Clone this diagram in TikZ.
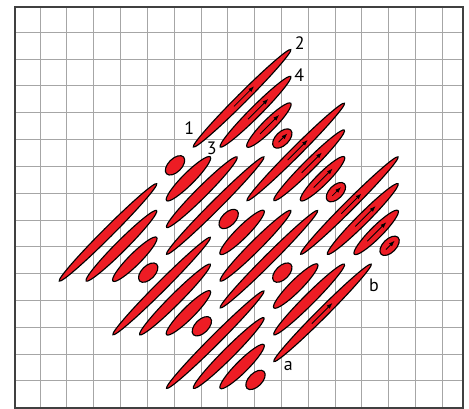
\documentclass[tikz,border=0pt]{standalone}
\usepackage{fontspec}
\setmainfont{PT Sans}
\usetikzlibrary{arrows.meta}

\definecolor{threadred}{HTML}{ED1C24}
\tikzset{
    stitch/.style={fill=threadred, draw=black, line width=1.2pt},
    stitcharrow/.style={-{Latex[length=2.2mm,width=1.6mm]}, line width=0.9pt},
    gridline/.style={black!35, line width=0.8pt},
    lbl/.style={font=\fontsize{19}{22}\selectfont, inner sep=0pt},
}

\begin{document}
\begin{tikzpicture}
    \useasboundingbox (-1.491,-0.048) rectangle (15.996,15.20);
    \draw[gridline, step=1] (-0.93,0) grid (15.76,14.95);
    \draw[line width=2pt, black!75] (-0.93,0) rectangle (15.76,14.95);

    % blocks slanting down from the right
    \foreach \bx/\by in {0.72/4.72, 2.72/2.72, 4.72/0.72, 5.72/9.72, 7.72/7.72, 9.72/5.72}
        \foreach \k/\w in {0/0.18, 1/0.2, 2/0.22, 3/0.25} {
            \coordinate (c) at ({\bx+(3.63+\k)/2},{\by+(3.63-\k)/2});
            \draw[stitch, rotate around={45:(c)}] (c) ellipse [x radius={0.7071*(3.63-\k)}, y radius=\w];
        }

    % blocks slanting up from the left
    \foreach \bx/\by in {4.72/5.72, 6.72/3.72, 8.72/1.72}
        \foreach \k/\w in {0/0.18, 1/0.2, 2/0.22, 3/0.25} {
            \coordinate (c) at ({\bx+(3.63-\k)/2},{\by+(3.63+\k)/2});
            \draw[stitch, rotate around={45:(c)}] (c) ellipse [x radius={0.7071*(3.63-\k)}, y radius=\w];
        }

    \foreach \bx/\by in {5.72/9.72, 7.72/7.72, 9.72/5.72}
        \foreach \k/\ta/\tb in {0/0.3/0.45, 1/0.28/0.48, 2/0.33/0.38, 3/0.14/0.19} {
            \coordinate (c) at ({\bx+(3.63+\k)/2},{\by+(3.63-\k)/2});
            \draw[stitcharrow] ([shift={(-\ta,-\ta)}]c) -- ([shift={(\tb,\tb)}]c);
        }

    \coordinate (ab) at (10.535,3.535);
    \draw[stitcharrow] ([shift={(-0.4,-0.4)}]ab) -- ([shift={(0.37,0.37)}]ab);

    \node[lbl] (n1) at (5.57,10.42) {1};
    \node[lbl] (n2) at (9.69,13.59) {2};
    \node[lbl] (n3) at (6.40,9.67) {3};
    \node[lbl] (n4) at (9.67,12.40) {4};
    \node[lbl] (na) at (9.26,1.57) {a};
    \node[lbl] (nb) at (12.45,4.58) {b};
\end{tikzpicture}
\end{document}
